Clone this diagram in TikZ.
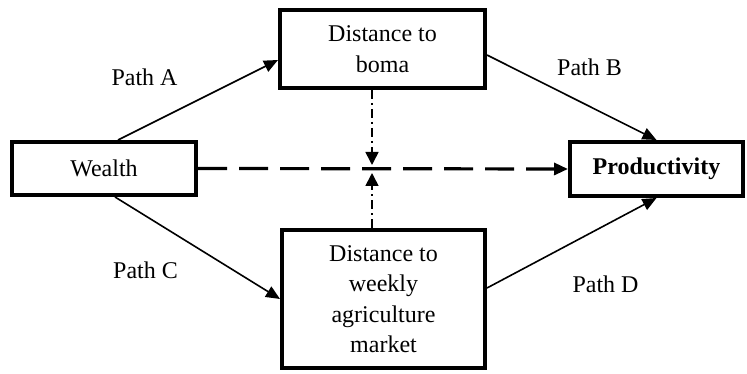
\documentclass[tikz,border=0pt]{standalone}
\usepackage{fontspec}
\setmainfont{Liberation Serif}
\usetikzlibrary{arrows.meta}
\begin{document}
\begin{tikzpicture}[x=1pt,y=1pt,
  every node/.style={font=\fontsize{24}{30.5}\selectfont},
  box/.style={draw, line width=4pt, inner sep=0pt, align=center},
  link/.style={line width=1.6pt, -{Triangle[length=14pt,width=12pt]}},
  direct/.style={line width=3.2pt, dash pattern=on 29pt off 12pt, -{Triangle[length=14pt,width=12pt]}},
  moderate/.style={line width=1.6pt, dash pattern=on 9pt off 4pt on 2pt off 4pt, -{Triangle[length=13pt,width=13pt]}},
  pathlabel/.style={anchor=base}]
\useasboundingbox (0,0) rectangle (747,374);
% boxes
\node[box, minimum width=184pt, minimum height=53pt] (wealth) at (104,205.5) {Wealth};
\node[box, minimum width=205pt, minimum height=78pt] (boma) at (382.5,325) {Distance to\\boma};
\node[box, minimum width=203pt, minimum height=138pt] (market) at (383.5,75) {Distance to\\weekly\\agriculture\\market};
\node[box, minimum width=173pt, minimum height=54pt, font=\fontsize{24}{30.5}\selectfont\bfseries] (prod) at (656.5,205) {Productivity};
% meeting point of the moderating arrows on the direct path
\coordinate (meet) at (372,207);
% indirect paths
\draw[link] ([xshift=14pt]wealth.north) -- ([yshift=-11pt]boma.west);
\draw[link] ([yshift=-6pt]boma.east) -- (prod.north);
\draw[link] ([xshift=11pt]wealth.south) -- (market.west);
\draw[link] ([yshift=11pt]market.east) -- (prod.south);
% direct path
\draw[direct] (wealth.east) -- (prod.west);
% moderating effects
\draw[moderate] (boma.south -| meet) -- ([yshift=2pt]meet);
\draw[moderate] (market.north -| meet) -- ([yshift=-6pt]meet);
% labels
\node[pathlabel] (la) at (144.5,288) {Path A};
\node[pathlabel] (lb) at (589.5,298) {Path B};
\node[pathlabel] (lc) at (145.5,95) {Path C};
\node[pathlabel] (ld) at (605.5,81) {Path D};
\end{tikzpicture}
\end{document}
